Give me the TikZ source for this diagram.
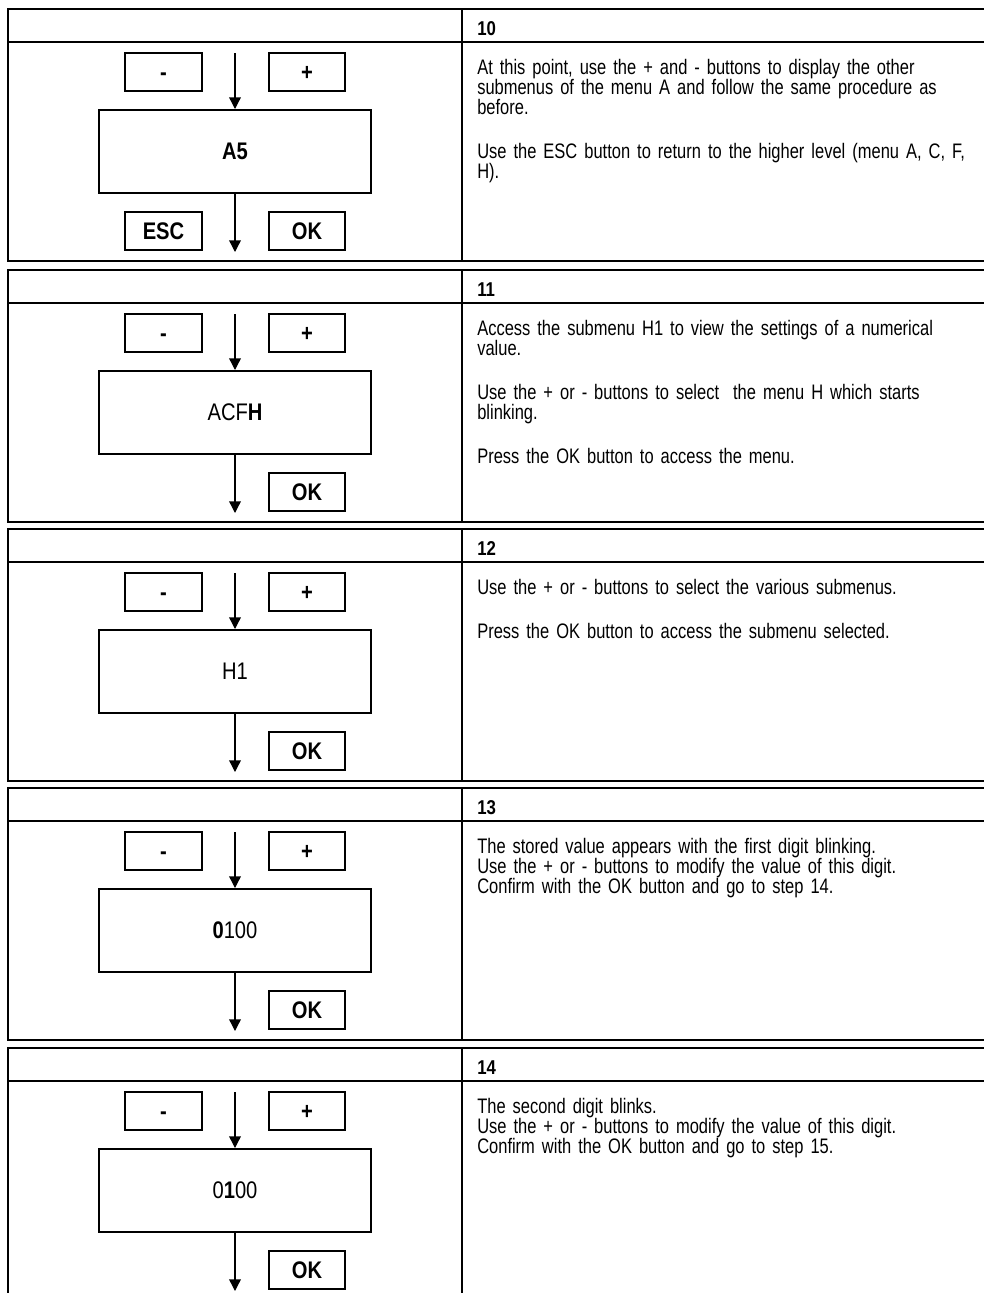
\documentclass[tikz,border=0pt]{standalone}
\usepackage{fontspec}
\setmainfont{Liberation Sans}[FakeStretch=0.84]
\newfontfamily{\notefamily}{Liberation Sans}[FakeStretch=0.785]
\usepackage{tikz}
\usetikzlibrary{arrows.meta}

\begin{document}
\begin{tikzpicture}[x=0.75pt,y=-0.75pt,
  frame/.style={line width=1.5pt},
  key/.style={draw,line width=1.5pt,minimum width=57.5pt,minimum height=28.5pt,inner sep=0pt,text height=12.9pt,text depth=0pt,font=\fontsize{18pt}{18pt}\selectfont\bfseries},
  display/.style={draw,line width=1.5pt,minimum width=204pt,minimum height=62.25pt,inner sep=0pt,font=\fontsize{18pt}{18pt}\selectfont},
  flow/.style={line width=1pt,-{Triangle[width=8.75pt,length=8.75pt]}},
  stepno/.style={anchor=base west,inner sep=0pt,font=\fontsize{15pt}{15pt}\selectfont\bfseries},
  note/.style={anchor=north west,inner sep=0pt,align=left,text width=420pt,font=\notefamily\fontsize{15.75pt}{15pt}\selectfont}]
\useasboundingbox (0,0) rectangle (984,1293);
\clip (0,0) rectangle (984,1293);
\fill[white] (0,0) rectangle (984,1293);
% step 10
\draw[frame] (8,9) rectangle (995,261);
\draw[frame] (8,42) -- (995,42) (462,9) -- (462,261);
\node[key] (minus10) at (163.5,72) {-};
\node[key] (plus10) at (307,72) {+};
\node[display,font=\fontsize{18pt}{18pt}\selectfont\bfseries] (disp10) at (235,151.5) {A5};
\node[key] (esc10) at (163.5,231) {ESC};
\node[key] (ok10) at (307,231) {OK};
\coordinate (in10) at (235,53);
\coordinate (out10) at (235,252);
\draw[flow] (in10) -- (disp10);
\draw[flow] (disp10) -- (out10);
\node[stepno] (no10) at (477,35) {10};
\node[note] (txt10) at (477,59) {At this point, use the + and - buttons to display the other\\ submenus of the menu A and follow the same procedure as\\ before.\\[18pt] Use the ESC button to return to the higher level (menu A, C, F,\\ H).};
% step 11
\draw[frame] (8,270) rectangle (995,522);
\draw[frame] (8,303) -- (995,303) (462,270) -- (462,522);
\node[key] (minus11) at (163.5,333) {-};
\node[key] (plus11) at (307,333) {+};
\node[display] (disp11) at (235,412.5) {ACF\textbf{H}};
\node[key] (ok11) at (307,492) {OK};
\coordinate (in11) at (235,314);
\coordinate (out11) at (235,513);
\draw[flow] (in11) -- (disp11);
\draw[flow] (disp11) -- (out11);
\node[stepno] (no11) at (477,296) {11};
\node[note] (txt11) at (477,320) {Access the submenu H1 to view the settings of a numerical\\ value.\\[18pt] Use the + or - buttons to select\ \ the menu H which starts\\ blinking.\\[18pt] Press the OK button to access the menu.};
% step 12
\draw[frame] (8,529) rectangle (995,781);
\draw[frame] (8,562) -- (995,562) (462,529) -- (462,781);
\node[key] (minus12) at (163.5,592) {-};
\node[key] (plus12) at (307,592) {+};
\node[display] (disp12) at (235,671.5) {H1};
\node[key] (ok12) at (307,751) {OK};
\coordinate (in12) at (235,573);
\coordinate (out12) at (235,772);
\draw[flow] (in12) -- (disp12);
\draw[flow] (disp12) -- (out12);
\node[stepno] (no12) at (477,555) {12};
\node[note] (txt12) at (477,579) {Use the + or - buttons to select the various submenus.\\[18pt] Press the OK button to access the submenu selected.};
% step 13
\draw[frame] (8,788) rectangle (995,1040);
\draw[frame] (8,821) -- (995,821) (462,788) -- (462,1040);
\node[key] (minus13) at (163.5,851) {-};
\node[key] (plus13) at (307,851) {+};
\node[display] (disp13) at (235,930.5) {\textbf{0}100};
\node[key] (ok13) at (307,1010) {OK};
\coordinate (in13) at (235,832);
\coordinate (out13) at (235,1031);
\draw[flow] (in13) -- (disp13);
\draw[flow] (disp13) -- (out13);
\node[stepno] (no13) at (477,814) {13};
\node[note] (txt13) at (477,838) {The stored value appears with the first digit blinking.\\ Use the + or - buttons to modify the value of this digit.\\ Confirm with the OK button and go to step 14.};
% step 14
\draw[frame] (8,1048) rectangle (995,1300);
\draw[frame] (8,1081) -- (995,1081) (462,1048) -- (462,1300);
\node[key] (minus14) at (163.5,1111) {-};
\node[key] (plus14) at (307,1111) {+};
\node[display] (disp14) at (235,1190.5) {0\textbf{1}00};
\node[key] (ok14) at (307,1270) {OK};
\coordinate (in14) at (235,1092);
\coordinate (out14) at (235,1291);
\draw[flow] (in14) -- (disp14);
\draw[flow] (disp14) -- (out14);
\node[stepno] (no14) at (477,1074) {14};
\node[note] (txt14) at (477,1098) {The second digit blinks.\\ Use the + or - buttons to modify the value of this digit.\\ Confirm with the OK button and go to step 15.};
\end{tikzpicture}
\end{document}
